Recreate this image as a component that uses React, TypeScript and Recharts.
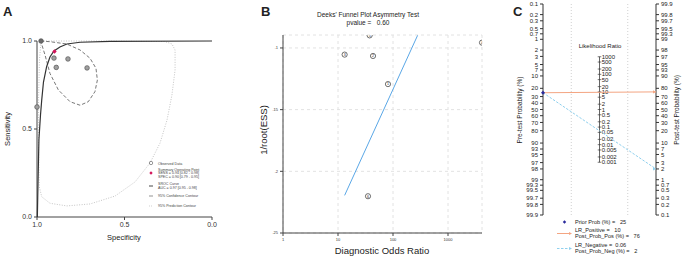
import { ComposedChart, Scatter, XAxis, YAxis, CartesianGrid, ReferenceLine } from 'recharts';

const FONT = '"Liberation Sans", Arial, Helvetica, sans-serif';

// ---- A: SROC plot (specificity / sensitivity) ----
const observedSpec = [0.977, 0.903, 0.823, 0.89, 0.714, 1.0];
const observedSens = [1.0, 0.903, 0.898, 0.85, 0.847, 0.625];
const summarySpec = 0.9;
const summarySens = 0.94;

const srocSpec = [0.998, 0.994, 0.989, 0.98, 0.973, 0.963, 0.945, 0.926, 0.903, 0.869, 0.829, 0.754, 0.583, 0.0];
const srocSens = [0.0, 0.21, 0.44, 0.58, 0.665, 0.767, 0.854, 0.909, 0.943, 0.966, 0.983, 0.993, 0.998, 1.0];

const confSpec = [0.979, 0.926, 0.83, 0.754, 0.697, 0.663, 0.655, 0.669, 0.707, 0.754, 0.811, 0.878, 0.926, 0.954, 0.979];
const confSens = [1.0, 0.996, 0.983, 0.949, 0.902, 0.845, 0.778, 0.712, 0.655, 0.635, 0.655, 0.722, 0.816, 0.92, 1.0];

const predSpec = [0.977, 0.64, 0.269, 0.229, 0.211, 0.211, 0.229, 0.257, 0.297, 0.354, 0.44, 0.554, 0.697, 0.83, 0.926, 0.973, 0.987, 0.991, 0.991, 0.986, 0.977];
const predSens = [1.0, 1.0, 0.997, 0.983, 0.949, 0.835, 0.693, 0.551, 0.42, 0.307, 0.199, 0.119, 0.074, 0.063, 0.078, 0.115, 0.172, 0.381, 0.665, 0.892, 1.0];

// ---- B: Deeks' funnel plot ----
const studyIds = ['3', '5', '2', '1', '4', '6'];
const studyDor = [13.2, 37.6, 43.3, 81, 4150, 35.1];
const studyInvRootEss = [0.1054, 0.0898, 0.1065, 0.1293, 0.0957, 0.2202];
const fitDor = [13.2, 280];
const fitInvRootEss = [0.2195, 0.0898];
const dorTicks = [1, 10, 100, 1000];
const essTicks = [0.1, 0.15, 0.2, 0.25];

// ---- C: Fagan nomogram ----
const preTicks = [0.1, 0.2, 0.3, 0.5, 0.7, 1, 2, 3, 5, 7, 10, 20, 30, 40, 50, 60, 70, 80, 90, 93, 95, 97, 98, 99, 99.3, 99.5, 99.7, 99.8, 99.9];
const postTicks = [0.1, 0.2, 0.3, 0.5, 0.7, 1, 2, 3, 5, 7, 10, 20, 30, 40, 50, 60, 70, 80, 90, 93, 95, 97, 98, 99, 99.3, 99.5, 99.7, 99.8, 99.9];
const lrTicks = [1000, 500, 200, 100, 50, 20, 10, 5, 2, 1, 0.5, 0.2, 0.1, 0.05, 0.02, 0.01, 0.005, 0.002, 0.001];
const priorProb = 25;
const lrPositive = 10;
const postProbPos = 76;
const lrNegative = 0.06;
const postProbNeg = 2;

const logit = (pct: number) => Math.log(pct / 100 / (1 - pct / 100));
const LIM = logit(99.9);

const zip = (xs: number[], ys: number[]) => xs.map((x, i) => ({ x, y: ys[i] }));

const observed = zip(observedSpec, observedSens);
const summary = [{ x: summarySpec, y: summarySens }];
const sroc = zip(srocSpec, srocSens);
const conf = zip(confSpec, confSens);
const pred = zip(predSpec, predSens);

const studies = studyDor.map((x, i) => ({ x, y: studyInvRootEss[i], id: studyIds[i] }));
const fit = zip(fitDor, fitInvRootEss);

// nomogram in left-axis logit units: right-hand values are mirrored
const preLabel = new Map(preTicks.map((p) => [logit(p).toFixed(4), String(p)]));
const postLabel = new Map(postTicks.map((p) => [logit(p).toFixed(4), String(p)]));
const lrMarks = lrTicks.map((lr) => ({ x: 0.5, y: -Math.log(lr) / 2, label: String(lr) }));
const posLine = [
  { x: 0, y: logit(priorProb) },
  { x: 1, y: -logit(postProbPos), end: true },
];
const negLine = [
  { x: 0, y: logit(priorProb) },
  { x: 1, y: -logit(postProbNeg), end: true },
];
const prior = [{ x: 0, y: logit(priorProb) }];

const noDot = () => <g />;

const tickStyleA = { fontSize: 7, fill: '#333', fontFamily: FONT };
const tickStyleB = { fontSize: 4, fill: '#333', fontFamily: FONT };
const tickStyleC = { fontSize: 6, fill: '#222', fontFamily: FONT };

function ObservedDot(props: any) {
  const { cx, cy, index } = props;
  return <circle cx={cx} cy={cy} r={2.3} fill={index === 0 ? '#6a6a6a' : '#a0a0a0'} stroke="#555" strokeWidth={0.7} />;
}

function diamond(color: string, r: number) {
  return (props: any) => {
    const { cx, cy } = props;
    return <path d={`M${cx},${cy - r} L${cx + r},${cy} L${cx},${cy + r} L${cx - r},${cy} Z`} fill={color} />;
  };
}

function StudyDot(props: any) {
  const { cx, cy, payload } = props;
  return (
    <g>
      <circle cx={cx} cy={cy} r={2.6} fill="#fff" stroke="#333" strokeWidth={0.7} />
      <text x={cx} y={cy + 1.3} textAnchor="middle" fontSize={3.6} fill="#222" fontFamily={FONT}>
        {payload.id}
      </text>
    </g>
  );
}

function LrMark(props: any) {
  const { cx, cy, payload } = props;
  return (
    <g>
      <line x1={cx - 1.8} x2={cx + 1.8} y1={cy} y2={cy} stroke="#222" strokeWidth={0.6} />
      <text x={cx + 2.2} y={cy + 2} fontSize={6} fill="#222" fontFamily={FONT}>
        {payload.label}
      </text>
    </g>
  );
}

function arrowEnd(color: string) {
  return (props: any) => {
    const { cx, cy, payload } = props;
    if (!payload.end) return <g />;
    return <path d={`M${cx - 3},${cy - 1.6} L${cx},${cy} L${cx - 3},${cy + 1.6} Z`} fill={color} />;
  };
}

function SrocPanel() {
  return (
    <ComposedChart width={230} height={260} margin={{ top: 41, right: 18, bottom: 13, left: 15 }}>
      <XAxis
        type="number"
        dataKey="x"
        domain={[0, 1]}
        reversed
        ticks={[1, 0.5, 0]}
        tickFormatter={(v: number) => v.toFixed(1)}
        tick={tickStyleA}
        tickSize={3}
        stroke="#444"
        height={30}
      />
      <YAxis
        type="number"
        dataKey="y"
        domain={[0, 1]}
        ticks={[0, 0.5, 1]}
        tickFormatter={(v: number) => v.toFixed(1)}
        tick={tickStyleA}
        tickSize={3}
        stroke="#444"
        width={22}
      />
      <Scatter data={pred} line={{ stroke: '#bdbdbd', strokeWidth: 0.9, strokeDasharray: '1 1.5' }} shape={noDot} isAnimationActive={false} />
      <Scatter data={conf} line={{ stroke: '#555', strokeWidth: 0.8, strokeDasharray: '3.5 2' }} shape={noDot} isAnimationActive={false} />
      <Scatter data={sroc} line={{ stroke: '#333', strokeWidth: 1.2 }} shape={noDot} isAnimationActive={false} />
      <Scatter data={observed} shape={ObservedDot} isAnimationActive={false} />
      <Scatter data={summary} shape={diamond('#d4145a', 2.2)} isAnimationActive={false} />
    </ComposedChart>
  );
}

function FunnelPanel() {
  return (
    <ComposedChart width={260} height={260} margin={{ top: 35, right: 8, bottom: 7, left: 30 }}>
      <CartesianGrid stroke="#e2e2e2" strokeDasharray="3 3" />
      <XAxis
        type="number"
        dataKey="x"
        scale="log"
        domain={[1, 4150]}
        ticks={dorTicks}
        allowDataOverflow
        tick={tickStyleB}
        tickSize={3}
        stroke="#444"
        height={20}
      />
      <YAxis
        type="number"
        dataKey="y"
        reversed
        domain={[0.0895, 0.25]}
        ticks={essTicks}
        allowDataOverflow
        tickFormatter={(v: number) => String(v).replace(/^0/, '')}
        tick={tickStyleB}
        tickSize={3}
        stroke="#444"
        width={23}
      />
      <Scatter data={fit} line={{ stroke: '#5aa7e6', strokeWidth: 1 }} shape={noDot} isAnimationActive={false} />
      <Scatter data={studies} shape={StudyDot} isAnimationActive={false} />
    </ComposedChart>
  );
}

function FaganPanel() {
  return (
    <ComposedChart width={193} height={260} margin={{ top: 4, right: 5, bottom: 45, left: 23 }}>
      <XAxis type="number" dataKey="x" domain={[0, 1]} hide />
      <YAxis
        yAxisId="L"
        type="number"
        dataKey="y"
        reversed
        domain={[-LIM, LIM]}
        allowDataOverflow
        ticks={preTicks.map(logit)}
        interval={0}
        tickFormatter={(v: number) => preLabel.get(v.toFixed(4)) ?? ''}
        tick={tickStyleC}
        tickSize={3}
        stroke="#333"
        width={30}
      />
      <YAxis
        yAxisId="R"
        orientation="right"
        type="number"
        dataKey="y"
        domain={[-LIM, LIM]}
        allowDataOverflow
        ticks={postTicks.map(logit)}
        interval={0}
        tickFormatter={(v: number) => postLabel.get(v.toFixed(4)) ?? ''}
        tick={tickStyleC}
        tickSize={3}
        stroke="#333"
        width={22}
      />
      <ReferenceLine yAxisId="L" x={0.25} stroke="#d0d0d0" strokeDasharray="1 2" />
      <ReferenceLine yAxisId="L" x={0.75} stroke="#d0d0d0" strokeDasharray="1 2" />
      <Scatter yAxisId="L" data={lrMarks} line={{ stroke: '#222', strokeWidth: 0.7 }} shape={LrMark} isAnimationActive={false} />
      <Scatter yAxisId="L" data={posLine} line={{ stroke: '#f4a582', strokeWidth: 1 }} shape={arrowEnd('#f4a582')} isAnimationActive={false} />
      <Scatter yAxisId="L" data={negLine} line={{ stroke: '#8fd0ee', strokeWidth: 1, strokeDasharray: '2.5 1.5' }} shape={arrowEnd('#8fd0ee')} isAnimationActive={false} />
      <Scatter yAxisId="L" data={prior} shape={diamond('#2b2b9c', 2)} isAnimationActive={false} />
      <Scatter yAxisId="R" data={[]} isAnimationActive={false} />
    </ComposedChart>
  );
}

const txt = { fontFamily: FONT, fill: '#222' } as const;
const pre = { whiteSpace: 'pre' } as const;

function Annotations() {
  return (
    <svg width={683} height={260} style={{ position: 'absolute', left: 0, top: 0, pointerEvents: 'none' }}>
      {/* panel letters */}
      <text x={3} y={16} fontSize={13} fontWeight="bold" {...txt}>A</text>
      <text x={261} y={16} fontSize={13} fontWeight="bold" {...txt}>B</text>
      <text x={513} y={16} fontSize={13} fontWeight="bold" {...txt}>C</text>

      {/* A titles and legend */}
      <text x={124} y={240} fontSize={7.5} textAnchor="middle" {...txt}>Specificity</text>
      <text transform="translate(10,129) rotate(-90)" fontSize={7.5} textAnchor="middle" {...txt}>Sensitivity</text>
      <g fontSize={3.6} fontFamily={FONT} fill="#444">
        <circle cx={151} cy={163} r={1.7} fill="none" stroke="#555" strokeWidth={0.6} />
        <text x={158} y={164.5}>Observed Data</text>
        <path d="M151,171.3 L152.7,173 L151,174.7 L149.3,173 Z" fill="#d4145a" />
        <text x={158} y={170.5}>Summary Operating Point</text>
        <text x={158} y={174.3}>SENS = 0.94 [0.82 - 0.98]</text>
        <text x={158} y={178.1}>SPEC = 0.90 [0.79 - 0.95]</text>
        <line x1={149} x2={153} y1={186} y2={186} stroke="#333" strokeWidth={0.9} />
        <text x={158} y={185.3}>SROC Curve</text>
        <text x={158} y={189.1}>AUC = 0.97 [0.95 - 0.98]</text>
        <line x1={149} x2={153} y1={196} y2={196} stroke="#666" strokeWidth={0.7} />
        <text x={158} y={197.3}>95% Confidence Contour</text>
        <line x1={149} x2={153} y1={206} y2={206} stroke="#bbb" strokeWidth={0.7} strokeDasharray="1 1" />
        <text x={158} y={207.3}>95% Prediction Contour</text>
      </g>

      {/* B titles */}
      <text x={368} y={17} fontSize={6.5} textAnchor="middle" {...txt}>Deeks' Funnel Plot Asymmetry Test</text>
      <text x={368} y={24.5} fontSize={6.5} textAnchor="middle" style={pre} {...txt}>pvalue =   0.60</text>
      <text transform="translate(267,130) rotate(-90)" fontSize={9.5} textAnchor="middle" {...txt}>1/root(ESS)</text>
      <text x={382} y={254} fontSize={9.5} textAnchor="middle" {...txt}>Diagnostic Odds Ratio</text>

      {/* C titles and legend */}
      <text x={600} y={48} fontSize={6} textAnchor="middle" {...txt}>Likelihood Ratio</text>
      <text transform="translate(522,110) rotate(-90)" fontSize={6.5} textAnchor="middle" {...txt}>Pre-test Probability (%)</text>
      <text transform="translate(679,110) rotate(-90)" fontSize={6.5} textAnchor="middle" {...txt}>Post-test Probability (%)</text>
      <g fontSize={5.6} fontFamily={FONT} fill="#222">
        <path d="M564.5,220.3 L566.2,222 L564.5,223.7 L562.8,222 Z" fill="#2b2b9c" />
        <text x={575} y={224} style={pre}>{`Prior Prob (%) =   ${priorProb}`}</text>
        <line x1={557} x2={571} y1={233.5} y2={233.5} stroke="#f4a582" strokeWidth={1} />
        <path d="M569,231.9 L572,233.5 L569,235.1 Z" fill="#f4a582" />
        <text x={575} y={231.5} style={pre}>{`LR_Positive =   ${lrPositive}`}</text>
        <text x={575} y={237.5} style={pre}>{`Post_Prob_Pos (%) =   ${postProbPos}`}</text>
        <line x1={557} x2={571} y1={248.5} y2={248.5} stroke="#8fd0ee" strokeWidth={1} strokeDasharray="2.5 1.5" />
        <path d="M569,246.9 L572,248.5 L569,250.1 Z" fill="#8fd0ee" />
        <text x={575} y={246.5} style={pre}>{`LR_Negative =  ${lrNegative}`}</text>
        <text x={575} y={252.5} style={pre}>{`Post_Prob_Neg (%) =   ${postProbNeg}`}</text>
      </g>
    </svg>
  );
}

export default function App() {
  return (
    <div style={{ position: 'absolute', left: 0, top: 0, width: 683, height: 260, background: '#fff', fontFamily: FONT }}>
      <div style={{ position: 'absolute', left: 0, top: 0 }}>
        <SrocPanel />
      </div>
      <div style={{ position: 'absolute', left: 230, top: 0 }}>
        <FunnelPanel />
      </div>
      <div style={{ position: 'absolute', left: 490, top: 0 }}>
        <FaganPanel />
      </div>
      <Annotations />
    </div>
  );
}
